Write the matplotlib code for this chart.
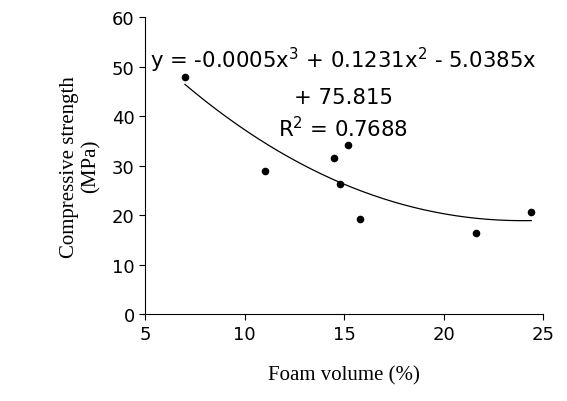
import numpy as np
import matplotlib.pyplot as plt

foam = [7.0, 11.0, 14.5, 14.8, 15.2, 15.8, 21.6, 24.4]
strength = [48.0, 29.0, 31.5, 26.2, 34.2, 19.2, 16.4, 20.6]
coef = [-0.0005, 0.1231, -5.0385, 75.815]

fig = plt.figure(figsize=(5.67, 4.02), dpi=100)
ax = fig.add_axes([0.256, 0.216, 0.702, 0.739])

xs = np.linspace(min(foam), max(foam), 200)
ax.plot(xs, np.polyval(coef, xs), color='black', lw=0.9)
ax.scatter(foam, strength, color='black', s=20, zorder=3)

ax.set_xlim(5, 25)
ax.set_ylim(0, 60)
ax.set_xticks([5, 10, 15, 20, 25])
ax.set_yticks(range(0, 61, 10))
ax.tick_params(labelsize=13, direction='out', length=4)
for s in ['top', 'right']:
    ax.spines[s].set_visible(False)

ax.set_xlabel('Foam volume (%)', fontsize=15, family='Liberation Serif', labelpad=16)
ax.set_ylabel('Compressive strength\n(MPa)', fontsize=15, family='Liberation Serif', labelpad=8)

ax.text(14.95, 51.5, 'y = -0.0005x$^3$ + 0.1231x$^2$ - 5.0385x', fontsize=15.3, ha='center', va='center')
ax.text(14.95, 43.8, '+ 75.815', fontsize=15.3, ha='center', va='center')
ax.text(14.95, 37.6, 'R$^2$ = 0.7688', fontsize=15.3, ha='center', va='center')

fig.savefig('out.png', dpi=100)
